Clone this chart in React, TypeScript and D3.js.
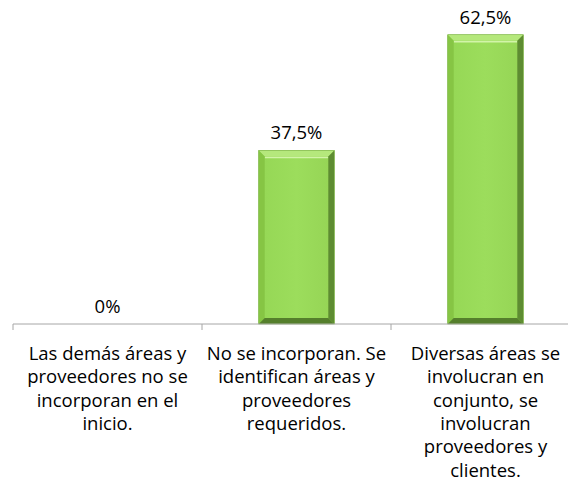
import React from "react";
import * as d3 from "d3";

const categories: string[][] = [
  ["Las demás áreas y", "proveedores no se", "incorporan en el", "inicio."],
  ["No se incorporan. Se", "identifican áreas y", "proveedores", "requeridos."],
  ["Diversas áreas se", "involucran en", "conjunto, se", "involucran", "proveedores y", "clientes."],
];
const values: number[] = [0, 37.5, 62.5];
const valueLabels: string[] = ["0%", "37,5%", "62,5%"];

const W = 568;
const H = 485;
const axisY = 324;
const left = 13;
const step = 189;
const font = "'Open Sans', Lato, sans-serif";

export default function App() {
  const x = d3
    .scaleBand<number>()
    .domain(d3.range(values.length))
    .range([left, left + step * values.length])
    .paddingInner(0.6)
    .paddingOuter(0.3);
  const y = d3.scaleLinear().domain([0, 70]).range([axisY, axisY - 324]);
  const bw = x.bandwidth();
  const b = 6;

  return (
    <svg width={W} height={H} style={{ position: "absolute", left: 0, top: 0 }}>
      <defs>
        <linearGradient id="face" x1="0" x2="1" y1="0" y2="0">
          <stop offset="0" stopColor="#95d755" />
          <stop offset="0.5" stopColor="#9cdd5c" />
          <stop offset="1" stopColor="#95d455" />
        </linearGradient>
      </defs>
      <rect width={W} height={H} fill="#fff" />
      {values.map((v, i) => {
        if (v <= 0) return null;
        const x0 = x(i)!;
        const x1 = x0 + bw;
        const y0 = y(v);
        const y1 = y(0);
        return (
          <g key={i}>
            <rect x={x0} y={y0} width={bw} height={y1 - y0} fill="url(#face)" />
            <polygon
              points={`${x0},${y0} ${x1},${y0} ${x1 - b},${y0 + b} ${x0 + b},${y0 + b}`}
              fill="#b5e87c"
            />
            <line x1={x0 + b} x2={x1 - b} y1={y0 + b + 1} y2={y0 + b + 1} stroke="#d2f4a8" strokeWidth={1.5} />
            <polygon
              points={`${x0},${y0} ${x0 + b},${y0 + b} ${x0 + b},${y1 - b} ${x0},${y1}`}
              fill="#86c544"
            />
            <polygon
              points={`${x1},${y0} ${x1 - b},${y0 + b} ${x1 - b},${y1 - b} ${x1},${y1}`}
              fill="#5e8c32"
            />
            <polygon
              points={`${x0},${y1} ${x0 + b},${y1 - b} ${x1 - b},${y1 - b} ${x1},${y1}`}
              fill="#557f2c"
            />
            <rect x={x0} y={y0} width={bw} height={y1 - y0} fill="none" stroke="#78b03e" strokeWidth={0.6} />
          </g>
        );
      })}
      <line x1={left} x2={W} y1={axisY} y2={axisY} stroke="#a6a6a6" strokeWidth={1} />
      {d3.range(values.length + 1).map((i) => (
        <line
          key={i}
          x1={left + i * step}
          x2={left + i * step}
          y1={axisY}
          y2={axisY + 6}
          stroke="#a6a6a6"
          strokeWidth={1}
        />
      ))}
      {values.map((v, i) => (
        <text
          key={i}
          x={x(i)! + bw / 2}
          y={y(v) - 11}
          textAnchor="middle"
          fontFamily={font}
          fontSize={18.5}
          fill="#000"
        >
          {valueLabels[i]}
        </text>
      ))}
      {categories.map((lines, i) => (
        <text
          key={i}
          x={x(i)! + bw / 2}
          textAnchor="middle"
          fontFamily={font}
          fontSize={18.5}
          fill="#000"
        >
          {lines.map((l, j) => (
            <tspan key={j} x={x(i)! + bw / 2} y={360 + j * 23.3}>
              {l}
            </tspan>
          ))}
        </text>
      ))}
    </svg>
  );
}
